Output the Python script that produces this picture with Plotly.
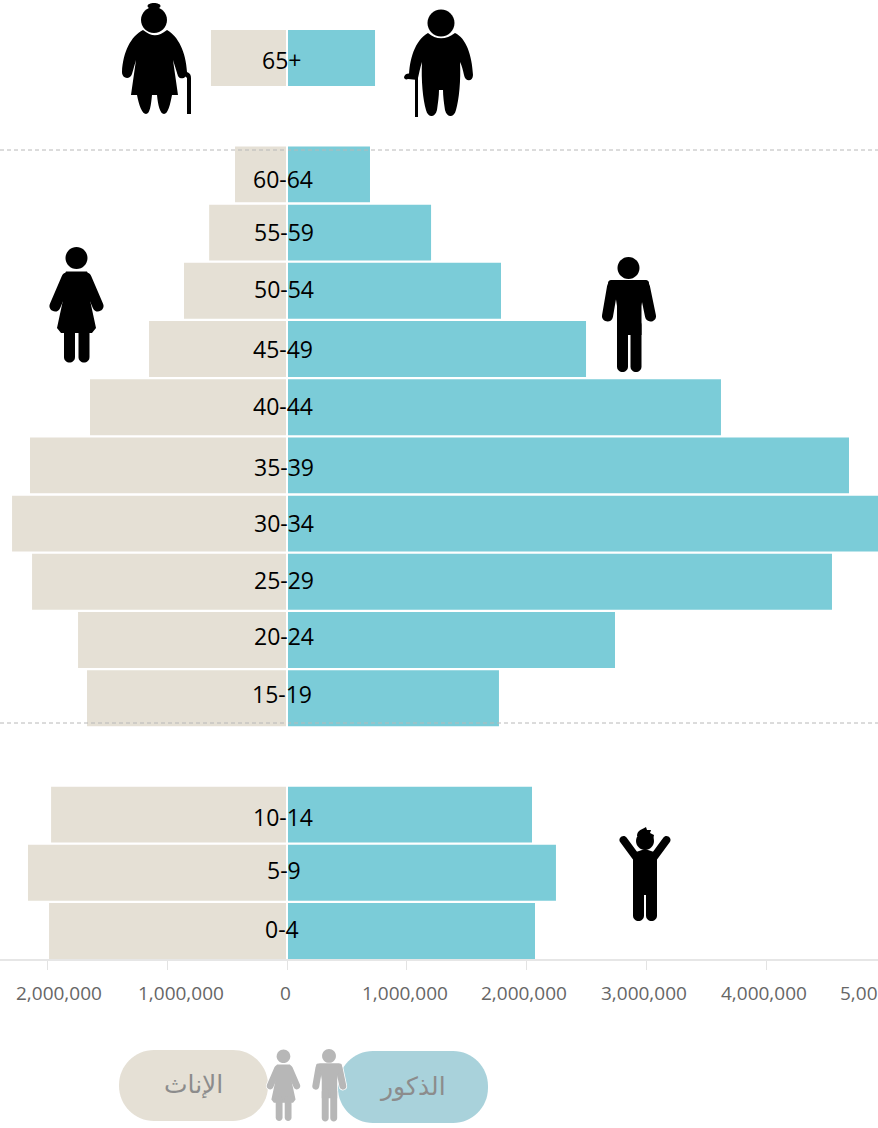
import re
import plotly.graph_objects as go

W, H = 878, 1128
age_groups = ["0-4", "5-9", "10-14", " ", "15-19", "20-24", "25-29", "30-34", "35-39",
              "40-44", "45-49", "50-54", "55-59", "60-64", "  ", "65+"]
females = [1987000, 2163000, 1970000, None, 1670000, 1745000, 2129000, 2296000, 2146000,
           1645000, 1152000, 860000, 650000, 434000, None, 635000]
males = [2071000, 2246000, 2046000, None, 1770000, 2739000, 4551000, 5050000, 4693000,
         3624000, 2497000, 1787000, 1203000, 693000, None, 735000]
tick_values = [-2000000, -1000000, 0, 1000000, 2000000, 3000000, 4000000, 5000000]
tick_labels = ["2,000,000", "1,000,000", "0", "1,000,000", "2,000,000", "3,000,000", "4,000,000", "5,00"]
legend_female = "الإناث"
legend_male = "الذكور"

# layout nudges (pixels) copied from the reference's hand placed text
tick_dx = [11, 14, -2, -1.5, -2, -2, -2, -26.5]
label_dx = [-5, -3, -4.5, 0, -5.5, -3, -3, -3, -3, -4.5, -4.5, -3, -3, -4, 0, -5.5]
label_dy = [2, 3, -2.4, 0, 4, 4, 2, 0.6, -1.6, 1, 0, 2, 0.6, -4.6, 0, -2]

PX_PER_UNIT = 119.75 / 1e6
X_RANGE = [-287 / PX_PER_UNIT, (878 - 287) / PX_PER_UNIT]
AXIS_Y = 959
SLOT = 58.2
Y_RANGE = [-(AXIS_Y - 931) / SLOT, 931 / SLOT]


def to_paper(d):
    out, isx = [], True
    for tok in re.findall(r"[A-Za-z]|-?\d+\.?\d*", d):
        if tok.isalpha():
            out.append(tok)
            isx = True
        else:
            v = float(tok)
            out.append(f"{v / W:.5f}" if isx else f"{1 - v / H:.5f}")
            isx = not isx
    return " ".join(out)


def circle(cx, cy, rx, ry=None):
    ry = rx if ry is None else ry
    k = 0.5523
    return (f"M{cx - rx} {cy} C{cx - rx} {cy - k * ry} {cx - k * rx} {cy - ry} {cx} {cy - ry} "
            f"C{cx + k * rx} {cy - ry} {cx + rx} {cy - k * ry} {cx + rx} {cy} "
            f"C{cx + rx} {cy + k * ry} {cx + k * rx} {cy + ry} {cx} {cy + ry} "
            f"C{cx - k * rx} {cy + ry} {cx - rx} {cy + k * ry} {cx - rx} {cy} Z")


def capsule(x0, y0, x1, y1, w):
    dx, dy = x1 - x0, y1 - y0
    n = (dx * dx + dy * dy) ** 0.5
    ux, uy = dx / n, dy / n
    r = w / 2
    px, py = -uy * r, ux * r
    b = 1.33 * r
    return (f"M{x0 + px} {y0 + py} L{x1 + px} {y1 + py} "
            f"C{x1 + px + ux * b} {y1 + py + uy * b} {x1 - px + ux * b} {y1 - py + uy * b} {x1 - px} {y1 - py} "
            f"L{x0 - px} {y0 - py} "
            f"C{x0 - px - ux * b} {y0 - py - uy * b} {x0 + px - ux * b} {y0 + py - uy * b} {x0 + px} {y0 + py} Z")


def rounded(x0, y0, x1, y1, r):
    return (f"M{x0 + r} {y0} L{x1 - r} {y0} C{x1 - r * .45} {y0} {x1} {y0 + r * .45} {x1} {y0 + r} "
            f"L{x1} {y1 - r} C{x1} {y1 - r * .45} {x1 - r * .45} {y1} {x1 - r} {y1} "
            f"L{x0 + r} {y1} C{x0 + r * .45} {y1} {x0} {y1 - r * .45} {x0} {y1 - r} "
            f"L{x0} {y0 + r} C{x0} {y0 + r * .45} {x0 + r * .45} {y0} {x0 + r} {y0} Z")


def poly(pts):
    return "M" + " L".join(f"{x} {y}" for x, y in pts) + " Z"


def woman(ox=0, oy=0, s=1):
    T = lambda x, y: (ox + s * x, oy + s * y)
    hx, hy = T(76.5, 258)
    pts = [T(66, 271.5), T(87, 271.5), T(90, 278), T(90, 300), T(96, 328), T(92, 333),
           T(61, 333), T(57, 328), T(63, 300), T(63, 278)]
    return [circle(hx, hy, 11 * s),
            capsule(*T(67, 278), *T(55, 306), 11 * s), capsule(*T(86, 278), *T(98, 306), 11 * s),
            poly(pts),
            capsule(*T(69.5, 328), *T(69.5, 357), 11 * s), capsule(*T(84, 328), *T(84, 357), 11 * s)]


def man(ox=0, oy=0, s=1):
    T = lambda x, y: (ox + s * x, oy + s * y)
    hx, hy = T(628.5, 268)
    return [circle(hx, hy, 11 * s),
            capsule(*T(612.5, 287), *T(607.5, 316), 11 * s), capsule(*T(644.5, 287), *T(650.5, 316), 11 * s),
            rounded(*T(608, 280), *T(649, 295), 3 * s),
            poly([T(613, 280), T(645, 280), T(641.5, 306), T(641.5, 335), T(617, 335), T(617, 306)]),
            capsule(*T(622.5, 325), *T(622.5, 366.5), 11 * s), capsule(*T(636, 325), *T(636, 366.5), 11 * s)]


child = [
    circle(645, 841, 9),
    "M637 836 C637 830 643 829 646 827 L647 830 L651 830 L650 833 L654 835 L653 840 Z",
    capsule(623.5, 840, 636, 857, 8), capsule(666.5, 840, 654, 857, 8),
    "M633 853 L645 849 L657 853 L657 895 L633 895 Z",
    capsule(638.5, 885, 638.5, 915.5, 11), capsule(651.5, 885, 651.5, 915.5, 11),
]

old_woman = [
    circle(154, 20, 13), circle(154, 6, 6.5, 3),
    "M143 30 C152 37 158 37 167 30 C178 36 186 52 187 72 C187 79 180 80 178 76 L173 60 L178 95 L172 95 "
    "C170 105 168 114 164 114 C160 114 158 105 157 95 L152 95 C151 105 150 114 146 114 "
    "C142 114 139 105 137 95 L131 95 L136 60 L132 74 C130 80 122 79 122 72 C123 52 131 36 143 30 Z",
    "M177 72 C182 72 185 71 187 72 C190 73 191 75 191 78 L191 114 L187 114 L187 78 L185 76 L180 78 Z",
]

old_man = [
    circle(441, 23, 13.5),
    "M428 33 C436 40 446 40 455 33 C466 38 472 55 473 75 C473 82 465 82 464 75 C463 70 462 66 460 62 "
    "C461 80 459 100 456 110 C454 118 447 118 445 110 C444 103 443 96 443 90 L439 90 "
    "C439 96 438 103 437 110 C435 118 428 118 426 110 C423 100 421 80 422 62 "
    "C420 68 419 74 418 78 L409 78 C409 60 415 40 428 33 Z",
    "M415 76 L418 76 L418 117 L415 117 Z",
    "M404 77 C405 74 408 73 411 74 L418 75 L418 80 L408 79 C406 80 404 79 404 77 Z",
]

shapes = []


def add(path, color, line=None):
    shapes.append(dict(type="path", xref="paper", yref="paper", path=to_paper(path), fillcolor=color,
                       line=dict(width=line[1], color=line[0]) if line else dict(width=0), layer="above"))


# dashed separators and the zero gap
for yy in [(931 - 150) / SLOT, (931 - 723) / SLOT]:
    shapes.append(dict(type="line", xref="paper", yref="y", x0=0, x1=1, y0=yy, y1=yy, layer="above",
                       line=dict(color="#B8B8B8", width=1, dash="4px,3px")))
shapes.append(dict(type="line", xref="x", yref="paper", x0=0, x1=0, y0=(H - AXIS_Y) / H, y1=1, layer="above",
                   line=dict(color="white", width=2)))

for icon in [woman(), man(), child, old_woman, old_man]:
    for part in icon:
        add(part, "black")

add(rounded(119, 1050, 268, 1121, 35), "#E5E0D5")
add(rounded(338, 1051, 488, 1123, 35), "#A9D2DB")
for icon in [woman(285 - 76.5 * 0.64, 1050 - 248 * 0.62, 0.62), man(329 - 628.5 * 0.63, 1049 - 257 * 0.63, 0.63)]:
    for part in icon:
        add(part, "white", ("white", 1.5))
    for part in icon:
        add(part, "#B7B7B7")

annotations = []
for i, lab in enumerate(age_groups):
    if lab.strip():
        annotations.append(dict(x=0, y=lab, xref="x", yref="y", text=lab, showarrow=False,
                                xshift=label_dx[i], yshift=label_dy[i],
                                font=dict(family="Open Sans", size=23, color="black")))
for v, t, dx in zip(tick_values, tick_labels, tick_dx):
    annotations.append(dict(x=(v - X_RANGE[0]) / (X_RANGE[1] - X_RANGE[0]), y=(H - 993) / H,
                            xref="paper", yref="paper", text=t, showarrow=False, xshift=dx,
                            xanchor="center", yanchor="middle",
                            font=dict(family="Open Sans", size=19, color="#666666")))
for txt, px, py in [(legend_female, 193, 1084), (legend_male, 412, 1086)]:
    annotations.append(dict(x=px / W, y=1 - py / H, xref="paper", yref="paper", text=txt, showarrow=False,
                            xanchor="center", yanchor="middle",
                            font=dict(family="Liberation Sans, DejaVu Sans", size=25, color="#8C8C8C")))

fig = go.Figure()
fig.add_bar(y=age_groups, x=[None if v is None else -v for v in females], orientation="h",
            marker=dict(color="#E5E0D5", line=dict(width=0)), width=0.96, hoverinfo="skip")
fig.add_bar(y=age_groups, x=males, orientation="h",
            marker=dict(color="#7BCCD8", line=dict(width=0)), width=0.96, hoverinfo="skip")

fig.update_layout(
    width=W, height=H, margin=dict(l=0, r=0, t=0, b=0), barmode="overlay", showlegend=False,
    paper_bgcolor="white", plot_bgcolor="white", shapes=shapes, annotations=annotations,
    xaxis=dict(range=X_RANGE, domain=[0, 1], tickvals=tick_values, ticks="outside", ticklen=9, tickwidth=1,
               tickcolor="#E3E3E3", showticklabels=False, showline=True, linecolor="#E6E6E6", linewidth=2,
               showgrid=False, zeroline=False, anchor="y"),
    yaxis=dict(range=Y_RANGE, domain=[(H - AXIS_Y) / H, 1], type="category", categoryorder="array",
               categoryarray=age_groups, showticklabels=False, showgrid=False, zeroline=False, ticks=""),
)
fig.write_html("out.html", config=dict(displayModeBar=False),
               post_script="document.body.style.margin='0';document.body.style.overflow='hidden';")
